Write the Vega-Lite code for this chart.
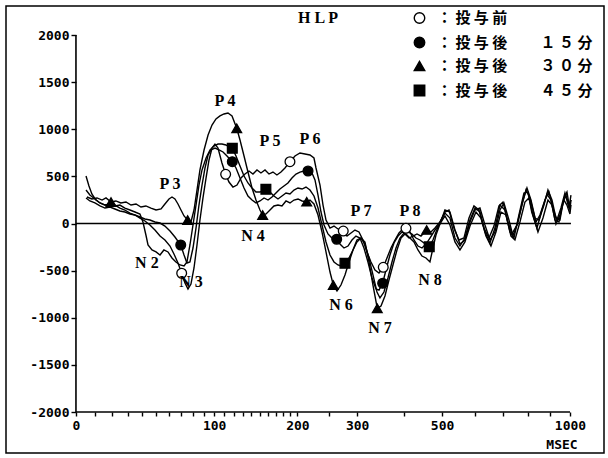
{
  "$schema": "https://vega.github.io/schema/vega-lite/v6.json",
  "width": 598,
  "height": 447,
  "autosize": {"type": "none"},
  "padding": {"left": 6, "top": 6, "right": 4, "bottom": 5},
  "background": "white",
  "config": {
    "view": {"stroke": "black", "strokeWidth": 1.5},
    "axis": {"labelColor": "black", "tickColor": "black", "grid": false, "domain": false},
    "legend": {
      "title": null, "orient": "none", "legendX": 406, "legendY": 4.5, "padding": 0,
      "symbolSize": 110, "symbolStrokeColor": "black", "symbolStrokeWidth": 1.4,
      "labelFont": "Noto Sans CJK JP", "labelFontSize": 15, "labelFontWeight": "bold", "labelColor": "black",
      "labelOffset": 10, "rowPadding": 7.5, "labelLimit": 400
    }
  },
  "datasets": {
    "curves": [
      {"s":"m30","t":5.8,"v":281},{"s":"m30","t":8.5,"v":260},{"s":"m30","t":11.4,"v":271},{"s":"m30","t":14.3,"v":249},{"s":"m30","t":16.6,"v":271},{"s":"m30","t":19.6,"v":228},{"s":"m30","t":22.6,"v":239},{"s":"m30","t":25.7,"v":218},{"s":"m30","t":29.0,"v":228},{"s":"m30","t":32.3,"v":196},{"s":"m30","t":35.7,"v":207},{"s":"m30","t":39.1,"v":175},{"s":"m30","t":42.6,"v":186},{"s":"m30","t":46.2,"v":164},{"s":"m30","t":50.0,"v":143},{"s":"m30","t":53.8,"v":154},{"s":"m30","t":56.8,"v":207},{"s":"m30","t":60.0,"v":260},{"s":"m30","t":62.4,"v":281},{"s":"m30","t":64.8,"v":260},{"s":"m30","t":67.3,"v":207},{"s":"m30","t":69.8,"v":143},{"s":"m30","t":72.4,"v":80},{"s":"m30","t":75.5,"v":37},{"s":"m30","t":78.4,"v":16},{"s":"m30","t":81.1,"v":143},{"s":"m30","t":83.8,"v":355},{"s":"m30","t":86.5,"v":568},{"s":"m30","t":90.3,"v":780},{"s":"m30","t":94.1,"v":939},{"s":"m30","t":97.9,"v":1045},{"s":"m30","t":101.8,"v":1109},{"s":"m30","t":105.8,"v":1141},{"s":"m30","t":109.9,"v":1162},{"s":"m30","t":114.0,"v":1172},{"s":"m30","t":118.3,"v":1141},{"s":"m30","t":123.4,"v":1010},{"s":"m30","t":127.0,"v":886},{"s":"m30","t":131.5,"v":716},{"s":"m30","t":136.0,"v":546},{"s":"m30","t":140.7,"v":377},{"s":"m30","t":145.4,"v":249},{"s":"m30","t":150.2,"v":143},{"s":"m30","t":153.5,"v":90},{"s":"m30","t":157.7,"v":101},{"s":"m30","t":162.7,"v":143},{"s":"m30","t":167.8,"v":186},{"s":"m30","t":173.1,"v":196},{"s":"m30","t":178.4,"v":186},{"s":"m30","t":183.9,"v":239},{"s":"m30","t":189.4,"v":218},{"s":"m30","t":195.1,"v":249},{"s":"m30","t":200.9,"v":260},{"s":"m30","t":206.8,"v":239},{"s":"m30","t":213.8,"v":231},{"s":"m30","t":218.8,"v":249},{"s":"m30","t":225.0,"v":207},{"s":"m30","t":231.4,"v":90},{"s":"m30","t":237.8,"v":-90},{"s":"m30","t":244.4,"v":-302},{"s":"m30","t":251.1,"v":-515},{"s":"m30","t":256.7,"v":-653},{"s":"m30","t":263.1,"v":-716},{"s":"m30","t":270.1,"v":-653},{"s":"m30","t":277.3,"v":-546},{"s":"m30","t":284.7,"v":-408},{"s":"m30","t":292.1,"v":-281},{"s":"m30","t":299.6,"v":-175},{"s":"m30","t":307.4,"v":-154},{"s":"m30","t":315.3,"v":-196},{"s":"m30","t":323.3,"v":-408},{"s":"m30","t":331.5,"v":-653},{"s":"m30","t":340.5,"v":-900},{"s":"m30","t":348.4,"v":-875},{"s":"m30","t":357.0,"v":-769},{"s":"m30","t":365.8,"v":-599},{"s":"m30","t":374.8,"v":-440},{"s":"m30","t":384.0,"v":-281},{"s":"m30","t":393.4,"v":-154},{"s":"m30","t":402.8,"v":-111},{"s":"m30","t":412.5,"v":-154},{"s":"m30","t":422.4,"v":-133},{"s":"m30","t":432.5,"v":-111},{"s":"m30","t":442.7,"v":-133},{"s":"m30","t":457.6,"v":-69},{"s":"m30","t":469.1,"v":-90},{"s":"m30","t":480.1,"v":-48},{"s":"m30","t":494.0,"v":16},{"s":"m30","t":508.3,"v":111},{"s":"m30","t":523.0,"v":58},{"s":"m30","t":538.0,"v":-154},{"s":"m30","t":553.3,"v":-239},{"s":"m30","t":569.0,"v":-154},{"s":"m30","t":585.1,"v":37},{"s":"m30","t":601.5,"v":164},{"s":"m30","t":618.3,"v":122},{"s":"m30","t":635.6,"v":-90},{"s":"m30","t":653.2,"v":-207},{"s":"m30","t":671.3,"v":-48},{"s":"m30","t":689.8,"v":196},{"s":"m30","t":708.7,"v":143},{"s":"m30","t":728.1,"v":-90},{"s":"m30","t":743.9,"v":-154},{"s":"m30","t":764.1,"v":90},{"s":"m30","t":784.8,"v":324},{"s":"m30","t":801.8,"v":334},{"s":"m30","t":818.0,"v":122},{"s":"m30","t":841.0,"v":-48},{"s":"m30","t":863.5,"v":143},{"s":"m30","t":886.6,"v":313},{"s":"m30","t":905.4,"v":249},{"s":"m30","t":924.5,"v":37},{"s":"m30","t":944.1,"v":16},{"s":"m30","t":964.0,"v":218},{"s":"m30","t":979.1,"v":302},{"s":"m30","t":994.6,"v":196},{"s":"m30","t":1005,"v":249},
      {"s":"pre","t":5.3,"v":355},{"s":"pre","t":7.4,"v":302},{"s":"pre","t":10.2,"v":260},{"s":"pre","t":13.1,"v":218},{"s":"pre","t":16.0,"v":196},{"s":"pre","t":19.0,"v":186},{"s":"pre","t":22.0,"v":196},{"s":"pre","t":25.1,"v":164},{"s":"pre","t":28.3,"v":143},{"s":"pre","t":31.6,"v":111},{"s":"pre","t":35.0,"v":90},{"s":"pre","t":38.4,"v":58},{"s":"pre","t":41.9,"v":27},{"s":"pre","t":45.5,"v":-16},{"s":"pre","t":49.2,"v":-69},{"s":"pre","t":53.0,"v":-133},{"s":"pre","t":56.8,"v":-175},{"s":"pre","t":60.8,"v":-239},{"s":"pre","t":64.0,"v":-324},{"s":"pre","t":67.3,"v":-419},{"s":"pre","t":70.4,"v":-528},{"s":"pre","t":73.2,"v":-631},{"s":"pre","t":75.8,"v":-695},{"s":"pre","t":78.4,"v":-642},{"s":"pre","t":81.1,"v":-472},{"s":"pre","t":83.8,"v":-228},{"s":"pre","t":86.5,"v":37},{"s":"pre","t":89.3,"v":271},{"s":"pre","t":92.2,"v":483},{"s":"pre","t":95.0,"v":674},{"s":"pre","t":97.9,"v":801},{"s":"pre","t":100.8,"v":843},{"s":"pre","t":103.8,"v":801},{"s":"pre","t":107.8,"v":642},{"s":"pre","t":111.6,"v":522},{"s":"pre","t":115.1,"v":440},{"s":"pre","t":119.3,"v":387},{"s":"pre","t":123.7,"v":408},{"s":"pre","t":128.1,"v":483},{"s":"pre","t":132.6,"v":525},{"s":"pre","t":137.2,"v":557},{"s":"pre","t":141.8,"v":525},{"s":"pre","t":146.6,"v":568},{"s":"pre","t":151.4,"v":536},{"s":"pre","t":156.4,"v":568},{"s":"pre","t":161.4,"v":525},{"s":"pre","t":166.5,"v":546},{"s":"pre","t":171.7,"v":515},{"s":"pre","t":177.1,"v":546},{"s":"pre","t":182.5,"v":589},{"s":"pre","t":189.4,"v":656},{"s":"pre","t":196.5,"v":716},{"s":"pre","t":203.8,"v":748},{"s":"pre","t":211.2,"v":737},{"s":"pre","t":218.8,"v":727},{"s":"pre","t":225.0,"v":695},{"s":"pre","t":228.2,"v":589},{"s":"pre","t":234.6,"v":408},{"s":"pre","t":239.5,"v":196},{"s":"pre","t":244.4,"v":37},{"s":"pre","t":251.1,"v":-48},{"s":"pre","t":257.9,"v":-27},{"s":"pre","t":264.8,"v":-58},{"s":"pre","t":274.2,"v":-80},{"s":"pre","t":281.0,"v":-133},{"s":"pre","t":288.4,"v":-101},{"s":"pre","t":295.8,"v":-69},{"s":"pre","t":303.5,"v":-90},{"s":"pre","t":311.3,"v":-175},{"s":"pre","t":319.3,"v":-302},{"s":"pre","t":327.4,"v":-408},{"s":"pre","t":335.7,"v":-493},{"s":"pre","t":344.1,"v":-525},{"s":"pre","t":353.3,"v":-465},{"s":"pre","t":361.4,"v":-366},{"s":"pre","t":370.3,"v":-260},{"s":"pre","t":379.4,"v":-175},{"s":"pre","t":388.7,"v":-101},{"s":"pre","t":398.1,"v":-58},{"s":"pre","t":405.2,"v":-51},{"s":"pre","t":414.9,"v":-90},{"s":"pre","t":424.9,"v":-175},{"s":"pre","t":435.0,"v":-239},{"s":"pre","t":445.3,"v":-260},{"s":"pre","t":455.8,"v":-218},{"s":"pre","t":466.4,"v":-154},{"s":"pre","t":480.1,"v":-69},{"s":"pre","t":494.0,"v":-5},{"s":"pre","t":508.3,"v":143},{"s":"pre","t":523.0,"v":122},{"s":"pre","t":538.0,"v":-69},{"s":"pre","t":553.3,"v":-218},{"s":"pre","t":569.0,"v":-175},{"s":"pre","t":585.1,"v":16},{"s":"pre","t":601.5,"v":143},{"s":"pre","t":618.3,"v":164},{"s":"pre","t":635.6,"v":-16},{"s":"pre","t":653.2,"v":-175},{"s":"pre","t":671.3,"v":-90},{"s":"pre","t":689.8,"v":143},{"s":"pre","t":704.9,"v":218},{"s":"pre","t":724.2,"v":37},{"s":"pre","t":740.0,"v":-133},{"s":"pre","t":760.1,"v":16},{"s":"pre","t":780.7,"v":249},{"s":"pre","t":797.5,"v":377},{"s":"pre","t":814.7,"v":249},{"s":"pre","t":836.6,"v":16},{"s":"pre","t":854.4,"v":90},{"s":"pre","t":877.2,"v":249},{"s":"pre","t":895.9,"v":334},{"s":"pre","t":914.3,"v":164},{"s":"pre","t":934.3,"v":37},{"s":"pre","t":954.0,"v":164},{"s":"pre","t":974.0,"v":324},{"s":"pre","t":994.6,"v":164},{"s":"pre","t":1005,"v":302},
      {"s":"m15","t":5.3,"v":271},{"s":"m15","t":7.4,"v":239},{"s":"m15","t":10.2,"v":218},{"s":"m15","t":13.1,"v":186},{"s":"m15","t":16.0,"v":164},{"s":"m15","t":19.0,"v":175},{"s":"m15","t":22.0,"v":154},{"s":"m15","t":25.1,"v":133},{"s":"m15","t":28.3,"v":122},{"s":"m15","t":31.6,"v":101},{"s":"m15","t":35.0,"v":90},{"s":"m15","t":38.4,"v":69},{"s":"m15","t":41.9,"v":48},{"s":"m15","t":45.5,"v":37},{"s":"m15","t":49.2,"v":16},{"s":"m15","t":53.0,"v":5},{"s":"m15","t":56.8,"v":-27},{"s":"m15","t":60.8,"v":-80},{"s":"m15","t":64.8,"v":-143},{"s":"m15","t":69.6,"v":-228},{"s":"m15","t":72.4,"v":-334},{"s":"m15","t":74.9,"v":-419},{"s":"m15","t":77.5,"v":-408},{"s":"m15","t":80.2,"v":-260},{"s":"m15","t":82.9,"v":-48},{"s":"m15","t":85.6,"v":196},{"s":"m15","t":88.4,"v":408},{"s":"m15","t":91.2,"v":589},{"s":"m15","t":94.1,"v":727},{"s":"m15","t":97.0,"v":780},{"s":"m15","t":100.8,"v":801},{"s":"m15","t":104.8,"v":780},{"s":"m15","t":108.9,"v":759},{"s":"m15","t":113.0,"v":716},{"s":"m15","t":118.6,"v":656},{"s":"m15","t":122.6,"v":589},{"s":"m15","t":127.0,"v":483},{"s":"m15","t":131.5,"v":377},{"s":"m15","t":136.0,"v":292},{"s":"m15","t":140.7,"v":249},{"s":"m15","t":145.4,"v":218},{"s":"m15","t":150.2,"v":239},{"s":"m15","t":155.2,"v":271},{"s":"m15","t":160.2,"v":249},{"s":"m15","t":165.3,"v":281},{"s":"m15","t":170.4,"v":324},{"s":"m15","t":175.7,"v":366},{"s":"m15","t":181.1,"v":398},{"s":"m15","t":186.6,"v":430},{"s":"m15","t":192.2,"v":483},{"s":"m15","t":198.0,"v":525},{"s":"m15","t":203.8,"v":546},{"s":"m15","t":209.7,"v":557},{"s":"m15","t":215.8,"v":557},{"s":"m15","t":221.9,"v":536},{"s":"m15","t":226.6,"v":462},{"s":"m15","t":231.4,"v":302},{"s":"m15","t":236.2,"v":122},{"s":"m15","t":241.1,"v":-16},{"s":"m15","t":247.7,"v":-111},{"s":"m15","t":254.5,"v":-154},{"s":"m15","t":262.6,"v":-167},{"s":"m15","t":268.3,"v":-218},{"s":"m15","t":275.5,"v":-260},{"s":"m15","t":282.8,"v":-239},{"s":"m15","t":290.2,"v":-175},{"s":"m15","t":297.7,"v":-133},{"s":"m15","t":305.4,"v":-154},{"s":"m15","t":313.3,"v":-260},{"s":"m15","t":321.3,"v":-408},{"s":"m15","t":329.5,"v":-578},{"s":"m15","t":337.8,"v":-695},{"s":"m15","t":344.1,"v":-706},{"s":"m15","t":352.0,"v":-634},{"s":"m15","t":359.2,"v":-493},{"s":"m15","t":368.0,"v":-334},{"s":"m15","t":377.1,"v":-207},{"s":"m15","t":386.4,"v":-133},{"s":"m15","t":395.7,"v":-90},{"s":"m15","t":405.2,"v":-111},{"s":"m15","t":414.9,"v":-154},{"s":"m15","t":424.9,"v":-196},{"s":"m15","t":435.0,"v":-281},{"s":"m15","t":445.3,"v":-345},{"s":"m15","t":455.8,"v":-366},{"s":"m15","t":466.4,"v":-408},{"s":"m15","t":474.6,"v":-260},{"s":"m15","t":482.9,"v":-122},{"s":"m15","t":494.0,"v":-5},{"s":"m15","t":508.3,"v":80},{"s":"m15","t":523.0,"v":-16},{"s":"m15","t":538.0,"v":-196},{"s":"m15","t":553.3,"v":-281},{"s":"m15","t":569.0,"v":-196},{"s":"m15","t":585.1,"v":-27},{"s":"m15","t":604.9,"v":122},{"s":"m15","t":621.8,"v":58},{"s":"m15","t":639.1,"v":-133},{"s":"m15","t":656.8,"v":-239},{"s":"m15","t":675.0,"v":-90},{"s":"m15","t":693.6,"v":122},{"s":"m15","t":712.6,"v":90},{"s":"m15","t":732.1,"v":-133},{"s":"m15","t":747.9,"v":-175},{"s":"m15","t":768.2,"v":16},{"s":"m15","t":789.0,"v":228},{"s":"m15","t":806.0,"v":271},{"s":"m15","t":823.4,"v":90},{"s":"m15","t":845.5,"v":-90},{"s":"m15","t":868.1,"v":58},{"s":"m15","t":891.2,"v":249},{"s":"m15","t":910.2,"v":196},{"s":"m15","t":929.4,"v":-5},{"s":"m15","t":949.0,"v":90},{"s":"m15","t":969.0,"v":249},{"s":"m15","t":984.3,"v":196},{"s":"m15","t":999.7,"v":101},{"s":"m15","t":1005,"v":196},
      {"s":"m45","t":5.3,"v":504},{"s":"m45","t":6.9,"v":398},{"s":"m45","t":8.5,"v":313},{"s":"m45","t":10.8,"v":249},{"s":"m45","t":13.1,"v":218},{"s":"m45","t":16.0,"v":196},{"s":"m45","t":19.0,"v":207},{"s":"m45","t":22.0,"v":186},{"s":"m45","t":25.1,"v":196},{"s":"m45","t":28.3,"v":164},{"s":"m45","t":31.6,"v":143},{"s":"m45","t":35.0,"v":122},{"s":"m45","t":38.4,"v":101},{"s":"m45","t":40.5,"v":16},{"s":"m45","t":42.6,"v":-122},{"s":"m45","t":44.1,"v":-228},{"s":"m45","t":47.0,"v":-281},{"s":"m45","t":50.0,"v":-302},{"s":"m45","t":53.0,"v":-334},{"s":"m45","t":56.0,"v":-281},{"s":"m45","t":59.2,"v":-302},{"s":"m45","t":62.4,"v":-366},{"s":"m45","t":65.6,"v":-408},{"s":"m45","t":69.0,"v":-440},{"s":"m45","t":72.4,"v":-451},{"s":"m45","t":74.9,"v":-408},{"s":"m45","t":77.5,"v":-228},{"s":"m45","t":80.2,"v":-16},{"s":"m45","t":82.9,"v":196},{"s":"m45","t":85.6,"v":408},{"s":"m45","t":88.4,"v":568},{"s":"m45","t":92.2,"v":695},{"s":"m45","t":96.0,"v":780},{"s":"m45","t":99.8,"v":822},{"s":"m45","t":103.8,"v":843},{"s":"m45","t":107.8,"v":843},{"s":"m45","t":111.9,"v":833},{"s":"m45","t":115.1,"v":812},{"s":"m45","t":118.6,"v":798},{"s":"m45","t":122.6,"v":716},{"s":"m45","t":127.0,"v":610},{"s":"m45","t":131.5,"v":504},{"s":"m45","t":136.0,"v":430},{"s":"m45","t":140.7,"v":377},{"s":"m45","t":145.4,"v":334},{"s":"m45","t":150.2,"v":334},{"s":"m45","t":155.2,"v":355},{"s":"m45","t":157.5,"v":363},{"s":"m45","t":162.7,"v":334},{"s":"m45","t":167.8,"v":292},{"s":"m45","t":173.1,"v":260},{"s":"m45","t":178.4,"v":292},{"s":"m45","t":183.9,"v":324},{"s":"m45","t":189.4,"v":313},{"s":"m45","t":195.1,"v":355},{"s":"m45","t":200.9,"v":377},{"s":"m45","t":206.8,"v":366},{"s":"m45","t":212.7,"v":387},{"s":"m45","t":218.8,"v":355},{"s":"m45","t":225.0,"v":292},{"s":"m45","t":231.4,"v":164},{"s":"m45","t":237.8,"v":-16},{"s":"m45","t":244.4,"v":-196},{"s":"m45","t":251.1,"v":-334},{"s":"m45","t":257.9,"v":-408},{"s":"m45","t":264.8,"v":-440},{"s":"m45","t":270.1,"v":-451},{"s":"m45","t":277.3,"v":-422},{"s":"m45","t":284.7,"v":-366},{"s":"m45","t":292.1,"v":-281},{"s":"m45","t":299.6,"v":-196},{"s":"m45","t":307.4,"v":-154},{"s":"m45","t":315.3,"v":-218},{"s":"m45","t":323.3,"v":-366},{"s":"m45","t":331.5,"v":-546},{"s":"m45","t":339.9,"v":-727},{"s":"m45","t":346.2,"v":-790},{"s":"m45","t":354.8,"v":-727},{"s":"m45","t":363.6,"v":-578},{"s":"m45","t":372.6,"v":-408},{"s":"m45","t":381.7,"v":-260},{"s":"m45","t":391.0,"v":-154},{"s":"m45","t":400.4,"v":-101},{"s":"m45","t":410.1,"v":-90},{"s":"m45","t":419.9,"v":-111},{"s":"m45","t":429.9,"v":-154},{"s":"m45","t":440.1,"v":-175},{"s":"m45","t":450.5,"v":-207},{"s":"m45","t":464.5,"v":-247},{"s":"m45","t":474.6,"v":-175},{"s":"m45","t":482.9,"v":-90},{"s":"m45","t":494.0,"v":16},{"s":"m45","t":508.3,"v":122},{"s":"m45","t":520.1,"v":143},{"s":"m45","t":535.0,"v":-48},{"s":"m45","t":550.2,"v":-175},{"s":"m45","t":565.9,"v":-154},{"s":"m45","t":581.9,"v":58},{"s":"m45","t":598.2,"v":186},{"s":"m45","t":614.9,"v":143},{"s":"m45","t":632.1,"v":-48},{"s":"m45","t":649.7,"v":-154},{"s":"m45","t":667.7,"v":-27},{"s":"m45","t":686.1,"v":186},{"s":"m45","t":701.1,"v":228},{"s":"m45","t":720.3,"v":16},{"s":"m45","t":736.0,"v":-111},{"s":"m45","t":756.0,"v":-16},{"s":"m45","t":776.5,"v":196},{"s":"m45","t":793.3,"v":355},{"s":"m45","t":810.3,"v":271},{"s":"m45","t":832.1,"v":58},{"s":"m45","t":849.9,"v":37},{"s":"m45","t":872.6,"v":196},{"s":"m45","t":891.2,"v":355},{"s":"m45","t":910.2,"v":249},{"s":"m45","t":929.4,"v":58},{"s":"m45","t":949.0,"v":37},{"s":"m45","t":969.0,"v":271},{"s":"m45","t":984.3,"v":334},{"s":"m45","t":999.7,"v":143},{"s":"m45","t":1005,"v":249}
    ],
    "markers": [
      {"s":"pre","t":70.4,"v":-528},{"s":"pre","t":111.6,"v":522},{"s":"pre","t":189.4,"v":656},{"s":"pre","t":274.2,"v":-80},{"s":"pre","t":353.3,"v":-465},{"s":"pre","t":405.2,"v":-51},
      {"s":"m15","t":69.6,"v":-228},{"s":"m15","t":118.6,"v":656},{"s":"m15","t":215.8,"v":557},{"s":"m15","t":262.6,"v":-167},{"s":"m15","t":352.0,"v":-634},
      {"s":"m30","t":19.6,"v":228},{"s":"m30","t":75.5,"v":37},{"s":"m30","t":123.4,"v":1010},{"s":"m30","t":153.5,"v":90},{"s":"m30","t":213.8,"v":231},{"s":"m30","t":256.7,"v":-653},{"s":"m30","t":340.5,"v":-900},{"s":"m30","t":457.6,"v":-69},
      {"s":"m45","t":118.6,"v":798},{"s":"m45","t":157.5,"v":363},{"s":"m45","t":277.3,"v":-422},{"s":"m45","t":464.5,"v":-247}
    ],
    "labels": [
      {"label":"H L P","t":231.4,"v":2180},
      {"label":"P 3","t":60.8,"v":419},
      {"label":"N 2","t":43.3,"v":-419},
      {"label":"N 3","t":78.4,"v":-621},
      {"label":"P 4","t":110.9,"v":1300},
      {"label":"P 5","t":162.7,"v":875},
      {"label":"P 6","t":218.8,"v":897},
      {"label":"N 4","t":141.8,"v":-133},
      {"label":"N 6","t":270.1,"v":-865},
      {"label":"N 7","t":346.2,"v":-1109},
      {"label":"P 7","t":307.4,"v":133},
      {"label":"P 8","t":414.9,"v":133},
      {"label":"N 8","t":466.4,"v":-599}
    ]
  },
  "encoding": {
    "x": {
      "field": "t", "type": "quantitative",
      "scale": {"type": "symlog", "constant": 110, "domain": [-42.6, 1191.4], "nice": false, "zero": false},
      "axis": {
        "orient": "bottom", "offset": -41, "title": null, "domain": false, "grid": false,
        "values": [0,10,20,30,40,50,60,70,80,90,100,110,120,130,140,150,160,170,180,190,200,250,300,400,500,600,700,800,900,1000],
        "format": "d",
        "labelExpr": "indexof([0,100,200,300,500,1000], datum.value) >= 0 ? datum.label : ''",
        "labelFont": "DejaVu Sans Mono", "labelFontSize": 13, "labelFontWeight": "bold", "labelColor": "black",
        "labelOverlap": false, "labelFlush": false, "labelBound": false,
        "tickSize": 4, "tickWidth": 1.4, "tickColor": "black", "labelPadding": 3
      }
    },
    "y": {
      "field": "v", "type": "quantitative",
      "scale": {"domain": [-2435, 2307.7], "nice": false, "zero": false},
      "axis": {
        "orient": "left", "offset": -70, "title": null, "domain": false, "grid": false,
        "values": [-2000,-1500,-1000,-500,0,500,1000,1500,2000],
        "format": "d",
        "labelExpr": "replace(datum.label, '−', '-')",
        "labelFont": "DejaVu Sans Mono", "labelFontSize": 13, "labelFontWeight": "bold", "labelColor": "black",
        "labelOverlap": false, "labelFlush": false,
        "tickSize": 5, "tickWidth": 1.4, "tickColor": "black", "labelPadding": 2
      }
    }
  },
  "layer": [
    {
      "data": {"values": [
        {"t": 0, "t2": 0, "v": -2000, "v2": 2000},
        {"t": 0, "t2": 1000, "v": -2000, "v2": -2000},
        {"t": 0, "t2": 1005, "v": 0, "v2": 0}
      ]},
      "mark": {"type": "rule", "color": "black", "strokeWidth": 1.6},
      "encoding": {"x2": {"field": "t2"}, "y2": {"field": "v2"}}
    },
    {
      "data": {"name": "curves"},
      "mark": {"type": "line", "color": "black", "strokeWidth": 1.4},
      "encoding": {"detail": {"field": "s", "type": "nominal"}}
    },
    {
      "data": {"name": "markers"},
      "mark": {"type": "point", "filled": true, "size": 95, "strokeWidth": 1.3, "opacity": 1},
      "encoding": {
        "shape": {
          "field": "s", "type": "nominal",
          "scale": {"domain": ["pre", "m15", "m30", "m45"], "range": ["circle", "circle", "triangle-up", "square"]},
          "legend": {
            "labelExpr": "datum.value == 'pre' ? '： 投 与 前' : datum.value == 'm15' ? '： 投 与 後　　  １ ５ 分' : datum.value == 'm30' ? '： 投 与 後　　  ３ ０ 分' : '： 投 与 後　　  ４ ５ 分'"
          }
        },
        "fill": {
          "field": "s", "type": "nominal",
          "scale": {"domain": ["pre", "m15", "m30", "m45"], "range": ["white", "black", "black", "black"]},
          "legend": {
            "labelExpr": "datum.value == 'pre' ? '： 投 与 前' : datum.value == 'm15' ? '： 投 与 後　　  １ ５ 分' : datum.value == 'm30' ? '： 投 与 後　　  ３ ０ 分' : '： 投 与 後　　  ４ ５ 分'"
          }
        },
        "stroke": {
          "field": "s", "type": "nominal",
          "scale": {"domain": ["pre", "m15", "m30", "m45"], "range": ["black", "black", "black", "black"]},
          "legend": {
            "labelExpr": "datum.value == 'pre' ? '： 投 与 前' : datum.value == 'm15' ? '： 投 与 後　　  １ ５ 分' : datum.value == 'm30' ? '： 投 与 後　　  ３ ０ 分' : '： 投 与 後　　  ４ ５ 分'"
          }
        }
      }
    },
    {
      "data": {"name": "labels"},
      "mark": {"type": "text", "font": "Liberation Serif", "fontSize": 16, "fontWeight": "bold", "color": "black", "align": "center", "baseline": "middle"},
      "encoding": {"text": {"field": "label"}}
    },
    {
      "data": {"values": [{"label": "MSEC", "t": 959, "v": -2355}]},
      "mark": {"type": "text", "font": "DejaVu Sans Mono", "fontSize": 13, "fontWeight": "bold", "color": "black", "align": "center", "baseline": "middle"},
      "encoding": {"text": {"field": "label"}}
    }
  ]
}
